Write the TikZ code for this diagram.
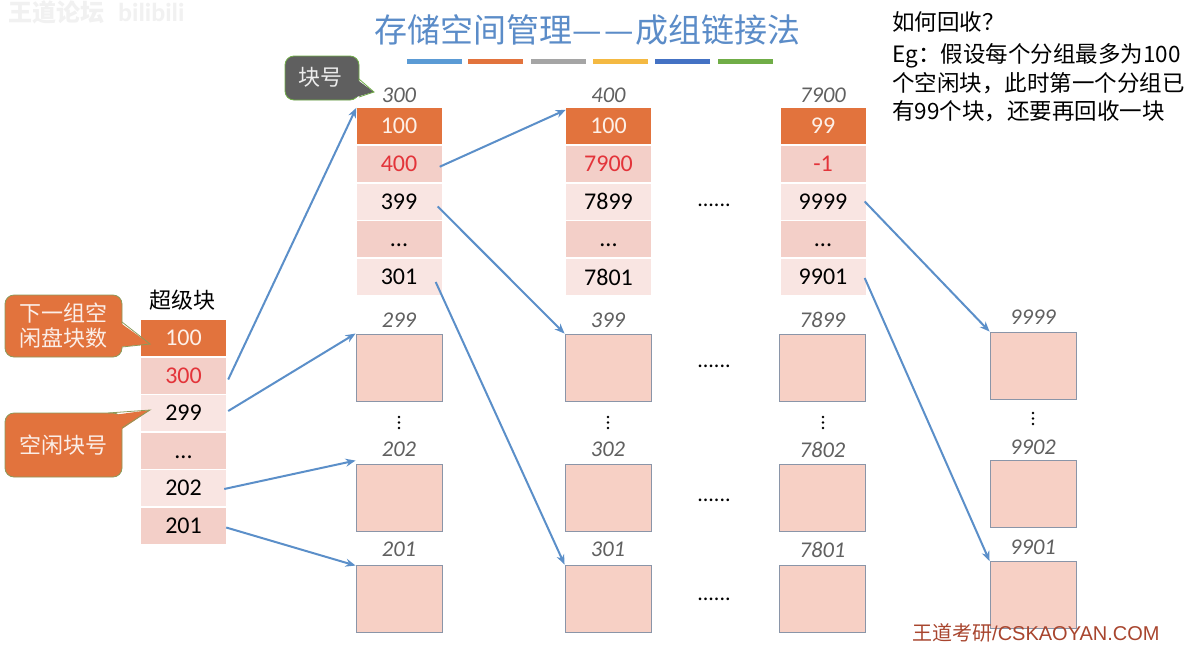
\documentclass[tikz,border=0pt]{standalone}
\usepackage{fontspec}
\setmainfont{Carlito}
\newfontfamily\cjk{Noto Sans CJK SC}
\newfontfamily\wmfont{Liberation Sans}
\usetikzlibrary{arrows.meta}
\definecolor{cOrange}{HTML}{E2733D}
\definecolor{cHeadTxt}{HTML}{FDF0E8}
\definecolor{cPinkM}{HTML}{F3CFC8}
\definecolor{cPinkL}{HTML}{F9E5E2}
\definecolor{cRed}{HTML}{E3343A}
\definecolor{cBlue}{HTML}{5B8FC9}
\definecolor{cTitle}{HTML}{5B8CC8}
\definecolor{cBox}{HTML}{F7D0C5}
\definecolor{cBoxLine}{HTML}{8A95A8}
\definecolor{cGrayText}{HTML}{606060}
\definecolor{cCallGray}{HTML}{5F5F5F}
\definecolor{cCallEdge}{HTML}{8C9A5A}
\definecolor{cCallTxt}{HTML}{FBEEE8}
\definecolor{cWM}{HTML}{A8452E}
\definecolor{cFaint}{HTML}{F1F1F1}
\definecolor{barA}{HTML}{5B9BD5}
\definecolor{barB}{HTML}{E2733D}
\definecolor{barC}{HTML}{A5A5A5}
\definecolor{barD}{HTML}{F4B942}
\definecolor{barE}{HTML}{4472C4}
\definecolor{barF}{HTML}{70AD47}
\tikzset{
  cell/.style={rectangle, minimum width=85pt, minimum height=36pt, inner sep=0pt, font=\fontsize{24}{24}\selectfont},
  hcell/.style={cell, fill=cOrange, text=cHeadTxt},
  mcell/.style={cell, fill=cPinkM},
  lcell/.style={cell, fill=cPinkL},
  redtxt/.style={text=cRed},
  blk/.style={rectangle, minimum width=86pt, minimum height=67pt, inner sep=0pt, fill=cBox, draw=cBoxLine, line width=0.9pt},
  lab/.style={font=\fontsize{22.5}{22.5}\selectfont\itshape, text=cGrayText, inner sep=0pt},
  hdots/.style={font=\fontsize{22}{22}\selectfont, inner sep=0pt},
  arr/.style={draw=cBlue, line width=2pt, -{Stealth[length=10pt,width=8pt]}},
  callbody/.style={draw=cCallEdge, line width=0.8pt, rounded corners=9pt},
  calltxt/.style={font=\cjk\fontsize{22}{25}\selectfont, text=cCallTxt, align=center, inner sep=0pt},
  rtxt/.style={font=\cjk\fontsize{22.5}{22.5}\selectfont, anchor=base west, inner sep=0pt},
}
\begin{document}
\begin{tikzpicture}[x=1pt,y=-1pt]
\useasboundingbox (0,0) rectangle (1196,646);
\fill[white] (0,0) rectangle (1196,646);

% faint watermark top-left
\node[font=\cjk\bfseries\fontsize{24}{24}\selectfont, text=cFaint, anchor=west, inner sep=0pt] (wmtl) at (8,12) {王道论坛};
\node[font=\bfseries\fontsize{26}{26}\selectfont, text=cFaint, anchor=west, inner sep=0pt] (wmbili) at (118,12) {bilibili};

% title
\node[font=\cjk\fontsize{33}{33}\selectfont, text=cTitle, inner sep=0pt] (title) at (587,30) {存储空间管理{\hspace{1pt}—\hspace{2pt}—\hspace{1pt}}成组链接法};
\fill[barA] (407,59) rectangle (462,64);
\fill[barB] (468,59) rectangle (523,64);
\fill[barC] (531,59) rectangle (586,64);
\fill[barD] (593,59) rectangle (648,64);
\fill[barE] (655,59) rectangle (710,64);
\fill[barF] (718,59) rectangle (773,64);

% top-right text
\node[rtxt] (q1) at (892,30) {如何回收？};
\node[rtxt] (q2) at (892,62) {Eg：假设每个分组最多为100};
\node[rtxt] (q3) at (892,91) {个空闲块，此时第一个分组已};
\node[rtxt] (q4) at (892,119) {有99个块，还要再回收一块};

% superblock
\node[font=\cjk\fontsize{22}{22}\selectfont, inner sep=0pt] (sbt) at (182,300) {超级块};
\node[hcell] (s0) at (183.5,338) {100};
\node[mcell, redtxt] (s1) at (183.5,375.5) {300};
\node[lcell] (s2) at (183.5,413) {299};
\node[mcell] (s3) at (183.5,450.5) {\vphantom{0}...};
\node[lcell] (s4) at (183.5,488) {202};
\node[mcell] (s5) at (183.5,525.5) {201};

% group 300
\node[lab] (la) at (399,95.5) {300};
\node[hcell] (a0) at (399,126) {100};
\node[mcell, redtxt] (a1) at (399,163.75) {400};
\node[lcell] (a2) at (399,201.5) {399};
\node[mcell] (a3) at (399,239.25) {\vphantom{0}...};
\node[lcell] (a4) at (399,277) {301};

% group 400
\node[lab] (lb) at (608.5,95.5) {400};
\node[hcell] (b0) at (608.5,126) {100};
\node[mcell, redtxt] (b1) at (608.5,163.75) {7900};
\node[lcell] (b2) at (608.5,201.5) {7899};
\node[mcell] (b3) at (608.5,239.25) {\vphantom{0}...};
\node[lcell] (b4) at (608.5,277) {7801};

% group 7900
\node[lab] (lc) at (823,95.5) {7900};
\node[hcell] (c0) at (823,126) {99};
\node[mcell, redtxt] (c1) at (823,163.75) {-1};
\node[lcell] (c2) at (823,201.5) {9999};
\node[mcell] (c3) at (823,239.25) {\vphantom{0}...};
\node[lcell] (c4) at (823,277) {9901};

% horizontal dots
\node[hdots] (hd0) at (714,205) {......};
\node[hdots] (hd1) at (714,366) {......};
\node[hdots] (hd2) at (714,500) {......};
\node[hdots] (hd3) at (714,599) {......};

% empty blocks column 1
\node[lab] (l1a) at (399,320) {299};
\node[blk] (p1a) at (399,367.5) {};
\node[lab] (l1b) at (399,449.5) {202};
\node[blk] (p1b) at (399,497.5) {};
\node[lab] (l1c) at (399,549.5) {201};
\node[blk] (p1c) at (399,598.5) {};
% column 2
\node[lab] (l2a) at (608,320) {399};
\node[blk] (p2a) at (608,367.5) {};
\node[lab] (l2b) at (608,449.5) {302};
\node[blk] (p2b) at (608,497.5) {};
\node[lab] (l2c) at (608,549.5) {301};
\node[blk] (p2c) at (608,598.5) {};
% column 3
\node[lab] (l3a) at (822.5,320) {7899};
\node[blk] (p3a) at (822.5,367.5) {};
\node[lab] (l3b) at (822.5,449.5) {7802};
\node[blk] (p3b) at (822.5,497.5) {};
\node[lab] (l3c) at (822.5,549.5) {7801};
\node[blk] (p3c) at (822.5,598.5) {};
% column 4
\node[lab] (l4a) at (1033,317.5) {9999};
\node[blk] (p4a) at (1033,365.5) {};
\node[lab] (l4b) at (1033,447.5) {9902};
\node[blk] (p4b) at (1033,494) {};
\node[lab] (l4c) at (1033,547.5) {9901};
\node[blk] (p4c) at (1033,595) {};

% vertical dots
\foreach \xx/\yy in {399/422.5, 608/422.5, 823/422.5, 1033/418.5}{
  \fill (\xx,\yy-5.5) circle (1.4);
  \fill (\xx,\yy) circle (1.4);
  \fill (\xx,\yy+5.5) circle (1.4);
}

% arrows
\draw[arr] ([xshift=2pt,yshift=-4pt]s1.east) -- (a0.north west);
\draw[arr] ([xshift=2pt,yshift=2pt]s2.east) -- (p1a.north west);
\draw[arr] ([xshift=-2pt,yshift=-1pt]s4.east) -- ([yshift=3pt]p1b.north west);
\draw[arr] ([yshift=-2pt]s5.east) -- ([yshift=-1pt]p1c.north west);
\draw[arr] ([xshift=-2pt,yshift=-3pt]a1.east) -- ([yshift=-2pt]b0.north west);
\draw[arr] ([xshift=-4pt,yshift=-5pt]a2.east) -- (p2a.north west);
\draw[arr] ([xshift=-6pt,yshift=-5pt]a4.east) -- (p2c.north west);
\draw[arr] ([xshift=-1pt]c2.east) -- (p4a.north west);
\draw[arr] ([xshift=-1pt,yshift=-1pt]c4.east) -- (p4c.north west);

% callout: next group count
\draw[callbody, fill=cOrange] (5,295) rectangle (122,357);
\fill[cOrange] (119,322) -- (150,344) -- (119,347) -- cycle;
\draw[cCallEdge, line width=0.8pt] (122,322) -- (150,344) -- (122,347);
\node[calltxt] (co1) at (63,326) {下一组空\\闲盘块数};

% callout: free block number
\draw[callbody, fill=cOrange] (5,413) rectangle (122,477);
\fill[cOrange] (106,416) -- (150,410) -- (119,431) -- cycle;
\draw[cCallEdge, line width=0.8pt] (108,413) -- (150,410) -- (122,428);
\node[calltxt] (co2) at (63,445) {空闲块号};

% callout: block number
\draw[callbody, fill=cCallGray, draw=barF] (285,56) rectangle (359,100);
\fill[cCallGray] (356,79) -- (374,92) -- (356,97) -- cycle;
\draw[barF, line width=0.8pt] (359,79) -- (374,92) -- (359,97);
\node[font=\cjk\fontsize{22}{22}\selectfont, text=white!93!black, inner sep=0pt] (co3) at (320,77) {块号};

% bottom-right watermark
\node[anchor=base west, inner sep=0pt, text=cWM, font=\fontsize{20}{20}\selectfont] (wmbr) at (912,640) {{\cjk 王道考研}{\wmfont /CSKAOYAN.COM}};
\end{tikzpicture}
\end{document}
